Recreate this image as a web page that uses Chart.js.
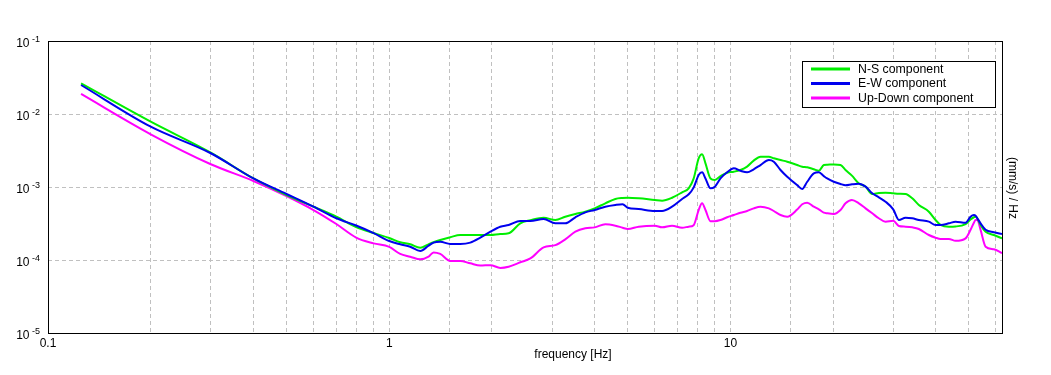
<!DOCTYPE html>
<html>
<head>
<meta charset="utf-8">
<script src="https://cdn.jsdelivr.net/npm/chart.js@4.4.0/dist/chart.umd.min.js"></script>
<style>
html,body{margin:0;padding:0;background:#fff;}
canvas{display:block;}
</style>
</head>
<body>
<canvas id="c" width="1051" height="375"></canvas>
<script>
// ---- data ----
const freqs = [
  0.125,0.2,0.3,0.4,0.5,0.6,0.7,0.8,0.9,1.0,
  1.077,1.152,1.233,1.304,1.349,1.411,1.51,1.615,1.728,1.849,1.98,2.116,2.239,2.422,2.592,2.835,
  3.068,3.28,3.512,3.756,4.0,4.298,4.6,4.83,5.0,5.384,6.0,6.305,6.745,7.218,7.546,
  7.80,8.07,8.26,8.45,8.74,9.0,9.35,9.78,10.23,10.70,11.19,11.70,12.25,12.96,13.40,14.02,14.67,15.69,16.23,16.79,17.55,18.16,18.78,19.21,20.09,21.02,
  21.74,22.7,23.79,24.89,26.04,27.22,28.48,30.0,31.16,32.6,34.11,35.66,38.15,39.92,41.29,43.68,45.69,48.88,50.55,51.70,52.30,52.9,54.09,55.95,59.17,62.5
];
const nsValues = [
  0.0263,0.00784,0.00295,0.00131,7.76e-4,5.37e-4,3.92e-4,2.83e-4,2.34e-4,2.0e-4,
  1.75e-4,1.64e-4,1.47e-4,1.64e-4,1.75e-4,1.88e-4,2.05e-4,2.2e-4,2.2e-4,2.2e-4,2.2e-4,2.27e-4,2.32e-4,3.18e-4,3.5e-4,3.8e-4,
  3.53e-4,3.92e-4,4.27e-4,4.59e-4,5.1e-4,5.98e-4,6.85e-4,7.07e-4,7.13e-4,7.0e-4,6.64e-4,6.5e-4,7.13e-4,8.46e-4,9.6e-4,
  1.3e-3,2.47e-3,2.81e-3,2.11e-3,1.31e-3,1.25e-3,1.41e-3,1.57e-3,1.62e-3,1.71e-3,1.9e-3,2.3e-3,2.6e-3,2.6e-3,2.47e-3,2.34e-3,2.22e-3,2.0e-3,1.9e-3,1.86e-3,1.75e-3,1.67e-3,2.0e-3,2.02e-3,2.04e-3,2.0e-3,
  1.71e-3,1.43e-3,1.12e-3,1.01e-3,8.02e-4,8.3e-4,8.36e-4,8.2e-4,8.1e-4,8.02e-4,7.0e-4,5.67e-4,4.59e-4,3.53e-4,3.02e-4,2.86e-4,2.88e-4,3.11e-4,3.6e-4,3.85e-4,3.92e-4,3.73e-4,3.02e-4,2.44e-4,2.2e-4,1.98e-4
];
const ewValues = [
  0.02495,0.0067,0.0029,0.00131,8.02e-4,5.37e-4,3.73e-4,2.97e-4,2.34e-4,1.82e-4,
  1.64e-4,1.52e-4,1.33e-4,1.57e-4,1.73e-4,1.78e-4,1.66e-4,1.66e-4,1.73e-4,2.02e-4,2.45e-4,2.86e-4,3.02e-4,3.42e-4,3.42e-4,3.65e-4,
  3.18e-4,3.18e-4,3.85e-4,4.5e-4,4.84e-4,5.37e-4,5.67e-4,5.8e-4,5.2e-4,5.0e-4,4.69e-4,4.69e-4,5.37e-4,6.85e-4,7.94e-4,
  9.8e-4,1.46e-3,1.59e-3,1.31e-3,9.6e-4,1.01e-3,1.31e-3,1.59e-3,1.8e-3,1.67e-3,1.59e-3,1.75e-3,2.0e-3,2.34e-3,2.22e-3,1.71e-3,1.38e-3,1.06e-3,9.4e-4,1.18e-3,1.54e-3,1.59e-3,1.41e-3,1.31e-3,1.18e-3,1.1e-3,
  1.06e-3,1.09e-3,1.11e-3,1.01e-3,8.2e-4,7.22e-4,6.3e-4,4.94e-4,3.53e-4,3.8e-4,3.73e-4,3.53e-4,3.35e-4,3.02e-4,3.02e-4,3.18e-4,3.35e-4,3.24e-4,3.92e-4,4.13e-4,4.05e-4,3.73e-4,3.18e-4,2.59e-4,2.4e-4,2.27e-4
];
const udValues = [
  0.0188,0.00527,0.00205,0.00121,7.53e-4,4.84e-4,3.11e-4,2.03e-4,1.69e-4,1.51e-4,
  1.21e-4,1.11e-4,1.02e-4,1.11e-4,1.27e-4,1.21e-4,9.7e-5,9.7e-5,9.0e-5,8.4e-5,8.5e-5,7.8e-5,8.1e-5,9.3e-5,1.05e-4,1.49e-4,
  1.6e-4,1.92e-4,2.44e-4,2.72e-4,2.8e-4,3.08e-4,2.95e-4,2.77e-4,2.66e-4,2.86e-4,2.95e-4,2.8e-4,2.95e-4,2.77e-4,2.86e-4,
  3.0e-4,4.84e-4,5.98e-4,4.84e-4,3.4e-4,3.4e-4,3.53e-4,3.85e-4,4.13e-4,4.45e-4,4.69e-4,5.1e-4,5.37e-4,5.1e-4,4.69e-4,4.13e-4,3.92e-4,4.9e-4,5.8e-4,6.1e-4,5.37e-4,4.94e-4,4.45e-4,4.36e-4,4.27e-4,4.84e-4,
  5.98e-4,6.64e-4,5.98e-4,5.1e-4,4.36e-4,3.73e-4,3.35e-4,3.45e-4,2.92e-4,2.86e-4,2.8e-4,2.66e-4,2.2e-4,2.02e-4,1.94e-4,1.94e-4,1.83e-4,1.98e-4,2.59e-4,3.24e-4,3.53e-4,3.53e-4,2.59e-4,1.52e-4,1.4e-4,1.24e-4
];
const seriesLabels = ['N-S component','E-W component','Up-Down component'];
const seriesColors = ['#00ee00','#0000ee','#ff00ff'];
const xTickValues = [0.1, 1, 10];
const xTickLabels = ['0.1', '1', '10'];
const yTickExponents = [-1, -2, -3, -4, -5];
const xTitle = 'frequency [Hz]';
const yTitle = '(mm/s) / Hz';

const toPts = vals => freqs.map((f, i) => ({x: f, y: vals[i]}));
const FONT = '"Liberation Sans", Arial, sans-serif';

const decorPlugin = {
  id: 'decor',
  beforeDraw(chart) {
    const ctx = chart.ctx;
    ctx.save();
    ctx.fillStyle = '#fff';
    ctx.fillRect(0, 0, chart.width, chart.height);
    ctx.restore();
  },
  afterDraw(chart) {
    const ctx = chart.ctx;
    const a = chart.chartArea;
    const xs = chart.scales.x, ys = chart.scales.y;
    ctx.save();
    // frame
    ctx.strokeStyle = '#000';
    ctx.lineWidth = 1;
    ctx.strokeRect(Math.round(a.left) + 0.5, Math.round(a.top) + 0.5, Math.round(a.right - a.left), Math.round(a.bottom - a.top));
    // y tick labels: 10 with superscript exponent
    ctx.fillStyle = '#000';
    yTickExponents.forEach(e => {
      const py = ys.getPixelForValue(Math.pow(10, e));
      ctx.font = '12px ' + FONT;
      ctx.textAlign = 'right';
      ctx.textBaseline = 'alphabetic';
      ctx.fillText('10', 29.5, py + 5.5);
      ctx.font = '9px ' + FONT;
      ctx.textAlign = 'left';
      ctx.fillText(String(e), 32, py + 0.5);
    });
    // x tick labels
    ctx.font = '12px ' + FONT;
    ctx.textAlign = 'center';
    ctx.textBaseline = 'alphabetic';
    xTickValues.forEach((v, i) => {
      const px = xs.getPixelForValue(v);
      ctx.fillText(xTickLabels[i], px, 347);
    });
    // x title
    ctx.fillText(xTitle, 573, 358);
    // right title, rotated
    ctx.save();
    ctx.translate(1012, (a.top + a.bottom) / 2 + 1);
    ctx.rotate(Math.PI / 2);
    ctx.textAlign = 'center';
    ctx.textBaseline = 'middle';
    ctx.fillText(yTitle, 0, 0);
    ctx.restore();
    // legend
    const lx = 802, ly = 61, lw = 193, lh = 46;
    ctx.fillStyle = '#fff';
    ctx.fillRect(lx, ly, lw, lh);
    ctx.strokeStyle = '#000';
    ctx.strokeRect(lx + 0.5, ly + 0.5, lw, lh);
    const rows = [69, 83.5, 98];
    seriesLabels.forEach((lab, i) => {
      ctx.strokeStyle = seriesColors[i];
      ctx.lineWidth = 3;
      ctx.beginPath();
      ctx.moveTo(811, rows[i]);
      ctx.lineTo(850, rows[i]);
      ctx.stroke();
      ctx.fillStyle = '#000';
      ctx.font = '12.3px ' + FONT;
      ctx.textAlign = 'left';
      ctx.textBaseline = 'middle';
      ctx.fillText(lab, 858, rows[i] + 0.5);
    });
    ctx.restore();
  }
};

new Chart(document.getElementById('c'), {
  type: 'line',
  data: {
    datasets: [
      {label: seriesLabels[0], data: toPts(nsValues), borderColor: seriesColors[0], order: 2},
      {label: seriesLabels[1], data: toPts(ewValues), borderColor: seriesColors[1], order: 1},
      {label: seriesLabels[2], data: toPts(udValues), borderColor: seriesColors[2], order: 3}
    ].map(d => Object.assign(d, {borderWidth: 2, pointRadius: 0, cubicInterpolationMode: 'monotone', fill: false}))
  },
  options: {
    responsive: false,
    animation: false,
    events: [],
    layout: {padding: {left: 48, right: 49, top: 41, bottom: 42}},
    plugins: {legend: {display: false}, tooltip: {enabled: false}},
    scales: {
      x: {
        type: 'logarithmic', min: 0.1, max: 62.5,
        ticks: {display: false},
        grid: {color: '#c0c0c0', drawTicks: false, lineWidth: 1},
        border: {display: false, dash: [4, 3]}
      },
      y: {
        type: 'logarithmic', min: 1e-5, max: 1e-1,
        afterBuildTicks: s => { s.ticks = yTickExponents.map(e => ({value: Math.pow(10, e)})); },
        ticks: {display: false},
        grid: {color: '#c0c0c0', drawTicks: false, lineWidth: 1},
        border: {display: false, dash: [4, 3]}
      }
    }
  },
  plugins: [decorPlugin]
});
</script>
</body>
</html>
